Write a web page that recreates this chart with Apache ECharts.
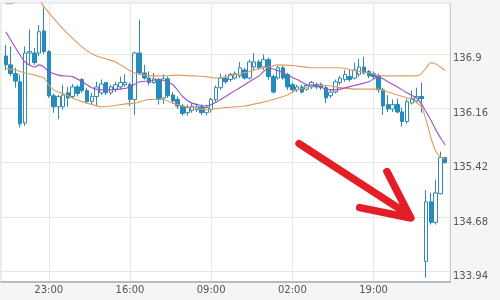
<!DOCTYPE html>
<html><head><meta charset="utf-8">
<script src="https://cdn.jsdelivr.net/npm/echarts@6/dist/echarts.min.js"></script>
<style>html,body{margin:0;padding:0;background:#f3f5f7}#c{width:500px;height:300px}</style>
</head><body><div id="c"></div>
<script>
// hourly candles, first candle at 14:00
const firstHour = 14;
const tickIdx = [9, 26, 43, 60, 77];
const tickLabels = ['23:00', '16:00', '09:00', '02:00', '19:00'];
const yTicks = [133.94, 134.68, 135.42, 136.16, 136.9];

const opens = [136.87,136.75,136.63,136.52,135.96,136.91,136.91,136.91,137.21,136.93,
136.33,136.18,136.18,136.37,136.32,136.45,136.55,136.40,136.25,136.32,
136.37,136.51,136.37,136.42,136.45,136.48,136.48,136.28,136.91,136.64,
136.57,136.51,136.55,136.30,136.56,136.34,136.28,136.19,136.10,136.13,
136.14,136.18,136.10,136.14,136.28,136.44,136.57,136.55,136.57,136.60,
136.68,136.57,136.72,136.79,136.72,136.82,136.59,136.57,136.71,136.62,
136.48,136.41,136.45,136.42,136.45,136.48,136.48,136.44,136.33,136.38,
136.51,136.55,136.59,136.57,136.62,136.72,136.66,136.63,136.60,136.41,
136.21,136.15,136.21,136.11,135.98,136.23,136.26,136.32,134.08,134.89,
134.61,135.00,135.49];
const closes = [136.75,136.63,136.53,135.95,136.91,136.93,136.78,137.20,136.93,136.33,
136.18,136.32,136.34,136.30,136.45,136.36,136.40,136.25,136.32,136.45,
136.49,136.37,136.45,136.48,136.51,136.51,136.28,136.91,136.64,136.57,
136.51,136.56,136.28,136.56,136.33,136.26,136.19,136.09,136.17,136.19,
136.18,136.10,136.17,136.28,136.44,136.57,136.52,136.62,136.63,136.71,
136.57,136.79,136.79,136.71,136.82,136.59,136.38,136.71,136.57,136.45,
136.41,136.45,136.38,136.47,136.51,136.45,136.44,136.30,136.38,136.52,
136.57,136.62,136.55,136.68,136.72,136.64,136.60,136.59,136.41,136.19,
136.15,136.21,136.11,135.98,136.25,136.29,136.32,136.29,134.89,134.61,
135.01,135.49,135.42];
const lows = [136.68,136.60,136.44,135.90,135.92,136.74,136.75,136.87,136.90,136.30,
136.10,136.01,136.14,136.18,136.29,136.32,136.37,136.23,136.21,136.19,
136.34,136.34,136.34,136.38,136.42,136.45,136.19,136.07,136.62,136.55,
136.47,136.49,136.21,136.22,136.30,136.22,136.15,136.06,136.06,136.10,
136.11,136.07,136.06,136.10,136.25,136.41,136.49,136.52,136.55,136.57,
136.55,136.55,136.68,136.68,136.68,136.55,136.36,136.55,136.55,136.41,
136.38,136.38,136.36,136.40,136.42,136.42,136.41,136.23,136.30,136.36,
136.48,136.52,136.52,136.55,136.59,136.62,136.57,136.56,136.37,136.07,
136.11,136.11,136.09,135.91,135.95,136.21,136.23,136.10,133.86,134.58,
134.58,134.99,135.41];
const highs = [137.02,137.00,136.71,136.62,137.00,137.23,136.98,137.29,137.53,136.95,
136.36,136.34,136.48,136.45,136.49,136.48,136.57,136.44,136.37,136.52,
136.55,136.52,136.48,136.52,136.59,136.62,136.51,136.93,137.36,136.75,
136.66,136.64,136.57,136.62,136.59,136.38,136.32,136.22,136.21,136.23,
136.22,136.21,136.21,136.30,136.47,136.63,136.62,136.64,136.66,136.79,
136.71,136.82,136.91,136.82,136.89,136.85,136.62,136.74,136.74,136.64,
136.51,136.48,136.48,136.49,136.53,136.51,136.51,136.47,136.41,136.55,
136.60,136.68,136.68,136.78,136.83,136.86,136.68,136.66,136.63,136.44,
136.34,136.28,136.29,136.17,136.29,136.40,136.44,136.51,135.05,135.01,
135.19,135.57,135.50];

// indicator lines read at candle indices: [candleIndex, value]
const maLine = [[0,137.20],[4,136.79],[6,136.72],[7,136.75],[8,136.72],[9,136.66],[11,136.61],[12,136.60],
[14,136.59],[16,136.52],[18,136.44],[20,136.41],[22,136.41],[24,136.42],[26,136.45],[28,136.52],[30,136.53],
[32,136.55],[35,136.48],[37,136.32],[39,136.23],[42,136.19],[43,136.21],[45,136.28],[47,136.36],[49,136.44],
[51,136.52],[53,136.60],[54,136.66],[55,136.71],[57,136.67],[59,136.61],[61,136.55],[63,136.48],[65,136.47],
[67,136.42],[69,136.41],[70,136.42],[73,136.47],[76,136.52],[78,136.59],[80,136.52],[82,136.45],[84,136.37],
[86,136.30],[87,136.22],[88,136.11],[89,136.00],[90,135.87],[91,135.76],[92,135.66]];
const upperBand = [[0,137.58],[1,137.58],[2,137.61],[3,137.69],[5,137.77],[7,137.63],[8,137.54],[9,137.46],
[11,137.31],[13,137.17],[15,137.05],[17,136.94],[19,136.87],[21,136.83],[23,136.79],[25,136.71],[27,136.64],
[29,136.61],[31,136.60],[33,136.60],[36,136.61],[39,136.60],[42,136.59],[44,136.57],[46,136.59],[49,136.63],
[51,136.66],[53,136.70],[55,136.72],[57,136.75],[60,136.74],[64,136.71],[67,136.71],[70,136.71],[73,136.67],
[76,136.64],[79,136.60],[82,136.60],[86,136.60],[87,136.63],[88,136.71],[89,136.78],[90,136.76],[91,136.72],[92,136.67]];
const lowerBand = [[0,136.70],[2,136.68],[4,136.64],[6,136.61],[8,136.57],[9,136.48],[10,136.41],[12,136.36],
[14,136.30],[16,136.25],[18,136.21],[20,136.18],[22,136.19],[25,136.22],[27,136.23],[30,136.28],[33,136.28],
[35,136.23],[37,136.19],[39,136.17],[42,136.14],[46,136.17],[50,136.19],[53,136.23],[56,136.28],[59,136.34],
[61,136.41],[63,136.45],[65,136.47],[67,136.47],[70,136.44],[73,136.42],[76,136.42],[78,136.42],[80,136.38],
[82,136.34],[85,136.28],[87,136.18],[88,136.00],[89,135.76],[90,135.58],[91,135.50],[92,135.47]];

// annotation arrow in data coordinates [candleIndex, price]
const arrowShaft = [[61.4,135.68],[84.0,134.73]];
const arrowHead = [[79.8,135.30],[84.8,134.67],[74.1,134.81]];

const hours = opens.map((_, j) => String((firstHour + j) % 24).padStart(2, '0') + ':00');
const cats = [''].concat(hours, ['']);
const tickPos = tickIdx.map(j => j + 1);
const showTick = (i) => tickPos.indexOf(i) >= 0;

const candleData = opens.map((o, j) => [j + 1, o, closes[j], lows[j], highs[j]]);
const shift = arr => arr.map(p => [p[0] + 1, p[1]]);

const chart = echarts.init(document.getElementById('c'), null, {renderer: 'canvas'});
const font = 'DejaVu Sans';
chart.setOption({
  backgroundColor: '#f3f5f7',
  animation: false,
  grid: {left: 1, right: 50, top: 3, bottom: 18, show: true, backgroundColor: '#ffffff', borderColor: '#dfe2e4', borderWidth: 1},
  xAxis: {
    type: 'category', data: cats, boundaryGap: false,
    axisLine: {show: true, lineStyle: {color: '#a3adb5', width: 1.5}},
    axisTick: {show: false},
    axisLabel: {interval: (i) => showTick(i), margin: 3, color: '#555', fontSize: 10, fontFamily: font,
      formatter: (v, i) => { const k = tickPos.indexOf(i); return k >= 0 ? tickLabels[k] : v; }},
    splitLine: {show: true, interval: (i) => showTick(i), lineStyle: {color: '#e9e7df', width: 1}}
  },
  yAxis: {
    type: 'value', position: 'right', min: 133.80, max: 137.59,
    axisLine: {show: true, lineStyle: {color: '#c5cbcf'}},
    axisTick: {show: false, customValues: yTicks},
    axisLabel: {customValues: yTicks, verticalAlign: 'top', margin: 3, color: '#555', fontSize: 10, fontFamily: font,
      formatter: v => String(+v.toFixed(2))},
    splitLine: {show: true, lineStyle: {color: '#e9e7df', width: 1}}
  },
  series: [
    {type: 'candlestick', data: candleData, encode: {x: 0, y: [1, 2, 3, 4]}, barWidth: 4,
      itemStyle: {color: '#ffffff', color0: '#1f8ec4', borderColor: '#2f8bb2', borderColor0: '#2a88b4', borderWidth: 1}},
    {type: 'line', data: shift(upperBand), symbol: 'none', smooth: 0.2, lineStyle: {color: '#e39a5c', width: 1.1}},
    {type: 'line', data: shift(lowerBand), symbol: 'none', smooth: 0.2, lineStyle: {color: '#e39a5c', width: 1.1}},
    {type: 'line', data: shift(maLine), symbol: 'none', smooth: 0.2, lineStyle: {color: '#a24fc2', width: 1.1}}
  ]
});

function toPx(p) {
  const idx = p[0] + 1, i0 = Math.floor(idx), f = idx - i0;
  const a = chart.convertToPixel({gridIndex: 0}, [i0, p[1]]);
  const b = chart.convertToPixel({gridIndex: 0}, [i0 + 1, p[1]]);
  return [a[0] + (b[0] - a[0]) * f, a[1]];
}
const arrowStyle = {stroke: '#e41e26', lineWidth: 7.5, lineCap: 'round', lineJoin: 'round', fill: null};
chart.setOption({
  graphic: [
    {type: 'polyline', shape: {points: arrowShaft.map(toPx)}, style: arrowStyle, z: 100},
    {type: 'polyline', shape: {points: arrowHead.map(toPx)}, style: arrowStyle, z: 100}
  ]
});
</script></body></html>
